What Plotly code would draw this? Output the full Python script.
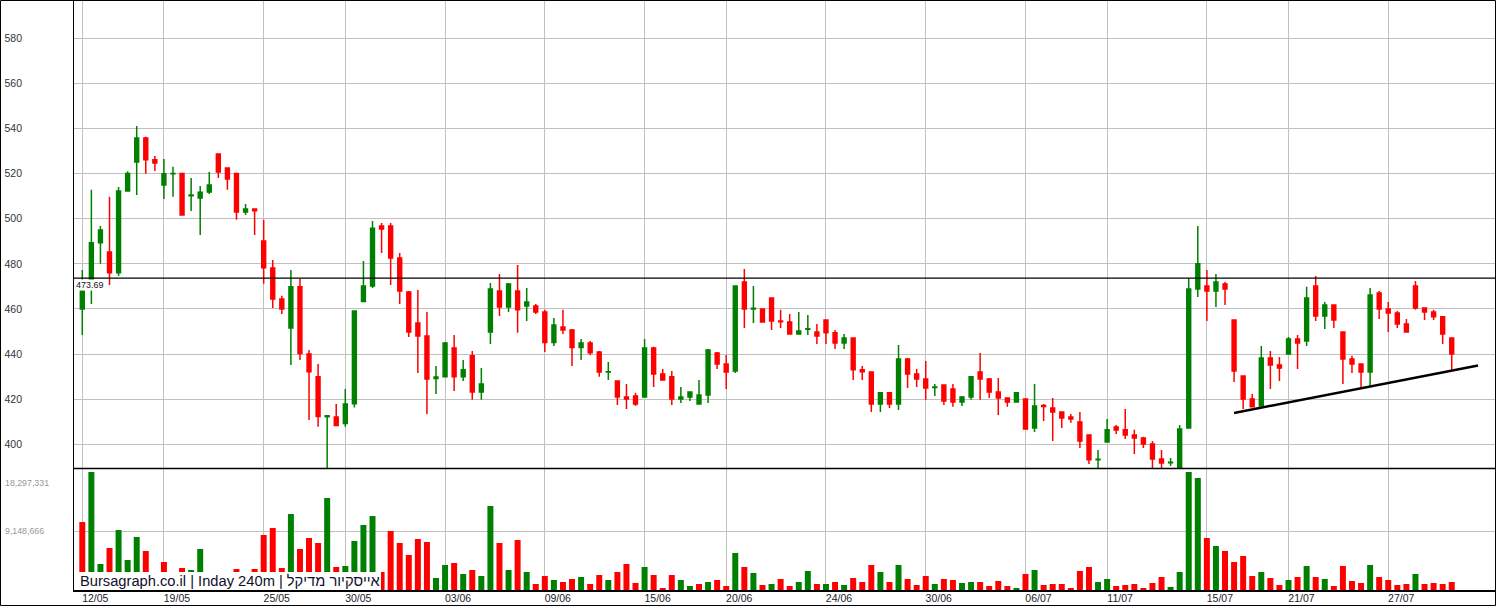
import plotly.graph_objects as go
from plotly.subplots import make_subplots

# ---------------- data ----------------
opens = [460.0, 470.5, 489.3, 485.3, 476.1, 512.3, 525.2, 535.8, 526.1, 515.0,
         519.9, 520.1, 510.2, 509.2, 511.9, 528.7, 522.5, 520.1, 503.0, 504.3,
         490.1, 478.2, 464.4, 451.6, 469.8, 440.0, 429.9, 412.2, 412.1, 409.2,
         418.0, 463.3, 470.2, 496.8, 496.8, 482.6, 467.5, 453.8, 448.0, 429.2,
         429.9, 442.7, 429.9, 439.2, 423.2, 449.8, 468.0, 460.9, 468.0, 461.3,
         461.3, 458.7, 445.1, 452.0, 450.7, 442.9, 444.9, 440.9, 432.0, 428.1,
         421.0, 421.4, 421.0, 442.7, 431.2, 429.9, 420.1, 421.0, 417.9, 421.9,
         440.5, 435.6, 432.5, 472.0, 460.0, 460.0, 464.9, 454.7, 454.2, 448.9,
         451.0, 449.8, 455.1, 449.4, 444.9, 447.1, 433.0, 432.1, 417.9, 422.8,
         417.9, 437.8, 431.2, 429.0, 425.2, 426.3, 424.5, 418.8, 421.0, 432.1,
         429.0, 423.2, 420.5, 418.8, 420.1, 407.2, 417.2, 416.1, 414.3, 412.1,
         409.9, 404.1, 393.2, 401.0, 407.7, 406.4, 404.1, 402.8, 400.1, 393.5,
         391.8, 389.0, 407.2, 468.9, 470.2, 468.0, 471.1, 455.1, 430.3, 420.1,
         417.0, 438.3, 435.2, 440.0, 446.7, 445.8, 470.2, 456.9, 461.8, 449.8,
         437.8, 435.6, 432.1, 467.1, 460.0, 458.2, 453.3, 470.2, 460.4, 458.7,
         456.5, 447.1]
highs = [477.3, 512.8, 496.8, 509.7, 514.1, 521.0, 541.1, 536.3, 527.8, 526.5,
         523.0, 520.1, 518.1, 514.5, 520.7, 528.7, 522.5, 520.1, 506.5, 504.3,
         499.5, 481.7, 465.8, 477.3, 473.4, 441.8, 435.6, 413.0, 417.9, 424.5,
         459.1, 481.3, 499.0, 498.1, 498.1, 484.8, 468.0, 468.4, 458.7, 434.7,
         445.4, 448.5, 437.4, 441.4, 433.8, 471.5, 475.5, 471.5, 479.5, 469.3,
         462.2, 459.6, 456.0, 459.6, 451.1, 446.7, 445.8, 441.4, 436.5, 428.1,
         426.7, 422.8, 446.7, 443.2, 433.4, 432.5, 425.4, 423.2, 428.5, 442.3,
         440.9, 439.6, 470.2, 477.7, 470.2, 460.0, 464.9, 459.6, 457.8, 458.7,
         457.3, 453.3, 455.1, 450.7, 448.9, 447.1, 434.7, 432.1, 422.8, 422.8,
         444.0, 438.3, 433.4, 436.9, 426.7, 426.3, 426.7, 421.4, 429.9, 440.5,
         429.4, 429.4, 420.5, 422.8, 420.1, 426.7, 417.9, 420.5, 414.3, 413.4,
         414.3, 404.1, 397.5, 411.2, 408.6, 415.7, 406.4, 403.3, 401.5, 397.5,
         393.9, 408.6, 473.7, 496.8, 477.3, 475.5, 472.0, 455.1, 430.3, 422.3,
         443.6, 441.4, 438.7, 447.6, 448.5, 469.8, 474.6, 463.1, 461.8, 449.8,
         439.2, 435.6, 469.3, 468.0, 463.1, 459.1, 455.6, 472.4, 460.4, 459.6,
         456.5, 447.1]
lows = [448.5, 462.2, 480.0, 470.6, 474.6, 512.3, 510.5, 519.9, 521.2, 508.8,
        509.7, 501.7, 503.4, 492.8, 511.0, 518.1, 512.8, 499.5, 501.7, 492.8,
        471.2, 460.4, 457.8, 435.2, 437.4, 410.8, 407.8, 389.0, 408.3, 407.8,
        416.3, 463.3, 469.3, 484.8, 470.6, 462.2, 447.6, 431.6, 413.4, 422.3,
        429.9, 423.6, 428.1, 419.7, 419.7, 444.5, 456.9, 458.7, 449.4, 454.7,
        457.8, 440.9, 443.6, 448.9, 434.7, 437.4, 439.6, 429.9, 428.5, 417.4,
        415.7, 417.0, 421.0, 425.4, 428.5, 417.4, 418.3, 419.2, 417.9, 418.3,
        433.4, 424.5, 431.6, 451.6, 453.8, 454.2, 450.7, 451.6, 448.9, 448.9,
        448.5, 444.5, 444.5, 442.3, 442.3, 428.5, 428.5, 414.3, 414.3, 416.1,
        415.2, 425.0, 425.4, 419.7, 421.4, 417.4, 416.6, 417.0, 419.7, 419.7,
        420.5, 413.0, 416.6, 418.8, 406.8, 405.5, 410.3, 401.5, 407.2, 409.5,
        398.4, 391.3, 389.0, 401.0, 404.6, 402.4, 395.7, 398.4, 389.0, 389.0,
        390.4, 388.5, 407.2, 465.3, 454.7, 460.9, 461.8, 427.6, 415.7, 416.6,
        417.0, 424.5, 428.1, 440.0, 433.4, 443.6, 454.7, 451.1, 451.6, 426.7,
        431.6, 425.0, 425.9, 455.6, 449.8, 451.6, 449.8, 459.6, 455.1, 455.1,
        444.5, 433.0]
closes = [468.0, 489.3, 495.0, 476.1, 512.3, 520.1, 535.8, 526.1, 524.7, 519.9,
          520.1, 501.7, 510.5, 511.7, 515.0, 520.7, 517.6, 503.0, 504.3, 503.5,
          478.3, 464.4, 460.0, 469.8, 440.2, 432.2, 412.3, 412.6, 408.3, 417.9,
          459.1, 470.2, 495.8, 495.5, 482.6, 468.0, 449.8, 448.0, 429.0, 429.8,
          444.9, 429.9, 433.0, 423.2, 426.7, 468.9, 460.9, 471.1, 459.6, 463.1,
          458.7, 445.1, 452.9, 450.7, 442.9, 444.9, 440.6, 432.1, 432.2, 421.0,
          420.1, 417.9, 442.7, 431.2, 428.5, 420.1, 421.0, 423.2, 421.9, 441.8,
          435.6, 432.1, 470.2, 460.0, 460.3, 454.2, 454.7, 454.3, 448.9, 450.2,
          451.2, 448.0, 449.4, 444.9, 447.1, 433.0, 432.2, 417.9, 422.8, 417.9,
          437.8, 431.2, 429.0, 425.0, 425.4, 419.2, 418.8, 421.0, 429.9, 429.0,
          423.2, 420.5, 418.8, 422.8, 406.8, 417.0, 416.8, 414.3, 411.7, 411.2,
          401.5, 393.1, 393.4, 406.5, 406.3, 404.1, 402.8, 400.1, 393.5, 391.7,
          392.0, 406.8, 468.9, 480.0, 468.0, 472.0, 468.9, 432.5, 420.1, 416.6,
          438.3, 435.2, 433.8, 446.7, 444.9, 464.9, 456.9, 461.8, 455.1, 437.8,
          435.6, 432.1, 466.2, 460.0, 458.2, 453.3, 449.8, 460.4, 458.7, 456.5,
          448.9, 440.0]
# volume in millions of shares
volume_m = [10.54, 18.30, 4.03, 6.51, 9.30, 4.65, 8.22, 6.05, 1.50, 4.34,
            1.00, 3.41, 3.10, 6.36, 1.80, 1.20, 1.40, 3.26, 0.90, 3.26,
            8.53, 9.61, 3.41, 11.78, 6.36, 8.06, 7.29, 14.27, 3.57, 3.72,
            7.60, 10.08, 11.47, 2.79, 9.15, 7.29, 5.43, 7.91, 7.44, 1.86,
            3.88, 4.19, 2.48, 3.10, 2.17, 13.03, 7.29, 3.10, 7.75, 2.79,
            0.93, 2.17, 1.55, 1.24, 1.71, 2.02, 0.93, 2.33, 1.55, 2.79,
            4.03, 1.09, 3.57, 2.33, 0.31, 2.33, 1.55, 0.62, 0.93, 1.24,
            1.55, 0.62, 5.74, 3.57, 2.64, 0.78, 0.93, 1.71, 0.62, 1.24,
            2.95, 0.93, 0.93, 1.24, 0.78, 1.86, 1.24, 3.88, 2.79, 1.24,
            3.88, 1.71, 0.78, 2.17, 0.93, 1.71, 1.55, 1.09, 1.24, 1.24,
            0.62, 1.40, 0.62, 0.31, 2.48, 3.10, 0.78, 0.93, 0.93, 0.31,
            2.95, 3.57, 1.24, 1.71, 0.62, 0.78, 0.93, 0.31, 1.09, 2.02,
            0.47, 2.79, 18.30, 17.37, 8.06, 6.82, 6.05, 4.34, 5.27, 2.17,
            2.79, 1.86, 0.78, 1.55, 2.02, 3.72, 2.02, 1.71, 0.62, 3.72,
            1.40, 1.09, 3.88, 2.02, 1.55, 0.78, 0.93, 2.48, 0.93, 1.09,
            0.93, 1.24]
first_bar_down = True

date_labels = ["12/05", "19/05", "25/05", "30/05", "03/06", "09/06", "15/06", "20/06",
               "24/06", "30/06", "06/07", "11/07", "15/07", "21/07", "27/07"]
date_label_index = [0, 9, 20, 29, 40, 51, 62, 71, 82, 93, 104, 113, 124, 133, 144]
price_ticks = [400, 420, 440, 460, 480, 500, 520, 540, 560, 580]
volume_ticks = [9148666, 18297331]
volume_tick_labels = ["9,148,666", "18,297,331"]
ref_level = 473.69
trend_x = [127.0, 153.9]
trend_y = [413.9, 434.9]
watermark = "Bursagraph.co.il | Inday 240m | אייסקיור מדיקל"

# ---------------- styling / layout ----------------
W, H = 1496, 606
ML, MR, MT, MB = 74, 1, 0, 16
PW = W - ML - MR
PH = H - MT - MB
SPLIT_PX = 468
GREEN = "#008000"
RED = "#ff0000"
GRID = "#c0c0c0"
FONT = "Liberation Sans, Arial, sans-serif"

x_range = [-0.915, 155.77]
price_range = [389.49, 596.97]
vol_range = [0, 18.918e6]


def xp(px):
    return (px - ML) / PW


def yp(py):
    return (MT + PH - py) / PH


n = len(closes)
idx = list(range(n))
volume = [v * 1e6 for v in volume_m]
vol_colors = []
for i in range(n):
    if i == 0:
        down = first_bar_down
    else:
        down = closes[i] < closes[i - 1]
    vol_colors.append(RED if down else GREEN)

price_frac = SPLIT_PX / PH
fig = make_subplots(rows=2, cols=1, shared_xaxes=True, vertical_spacing=0,
                    row_heights=[price_frac, 1 - price_frac])

fig.add_trace(go.Candlestick(
    x=idx, open=opens, high=highs, low=lows, close=closes,
    increasing=dict(line=dict(color=GREEN, width=1.5), fillcolor=GREEN),
    decreasing=dict(line=dict(color=RED, width=1.5), fillcolor=RED),
    whiskerwidth=0, showlegend=False, hoverinfo="skip"), row=1, col=1)

fig.add_trace(go.Scatter(x=trend_x, y=trend_y, mode="lines",
                         line=dict(color="black", width=2.5),
                         showlegend=False, hoverinfo="skip"), row=1, col=1)

fig.add_trace(go.Bar(x=idx, y=volume, marker=dict(color=vol_colors, line=dict(width=0)),
                     showlegend=False, hoverinfo="skip"), row=2, col=1)

common_x = dict(range=x_range, tickvals=date_label_index, showgrid=True, gridcolor=GRID,
                gridwidth=1, zeroline=False, showline=False, ticks="",
                rangeslider=dict(visible=False))
fig.update_xaxes(**common_x)
fig.update_xaxes(showticklabels=False, row=1, col=1)
fig.update_xaxes(ticktext=date_labels, showticklabels=True,
                 tickfont=dict(family=FONT, size=10.5, color="#1a1a2a"),
                 ticklabelshift=13, ticklabelstandoff=0, row=2, col=1)

fig.update_yaxes(range=price_range, tickvals=price_ticks, showgrid=True, gridcolor=GRID,
                 zeroline=False, showline=False, ticks="",
                 tickfont=dict(family=FONT, size=10.5, color="#333333"),
                 ticklabelstandoff=51, row=1, col=1)
fig.update_yaxes(range=vol_range, tickvals=[volume_ticks[0]], showgrid=True, gridcolor=GRID,
                 zeroline=False, showline=False, ticks="", showticklabels=False, row=2, col=1)

shapes = [
    # reference level line
    dict(type="line", xref="paper", yref="y", x0=0, x1=1, y0=ref_level, y1=ref_level,
         line=dict(color="black", width=1.2), layer="above"),
    # watermark background
    dict(type="rect", xref="paper", yref="paper", x0=xp(74.5), x1=xp(381), y0=yp(590), y1=yp(572),
         fillcolor="white", line=dict(width=0), layer="above"),
    # outer frame
    dict(type="rect", xref="paper", yref="paper", x0=xp(0.5), x1=xp(1495.5), y0=yp(605.5), y1=yp(0.5),
         line=dict(color="black", width=1), layer="above"),
    # y axis line
    dict(type="line", xref="paper", yref="paper", x0=xp(73.5), x1=xp(73.5), y0=yp(591), y1=yp(0),
         line=dict(color="black", width=1), layer="above"),
    # panel separator
    dict(type="line", xref="paper", yref="paper", x0=xp(74), x1=xp(1495), y0=yp(468.5), y1=yp(468.5),
         line=dict(color="black", width=1.3), layer="above"),
    # bottom axis line
    dict(type="line", xref="paper", yref="paper", x0=xp(73), x1=xp(1495), y0=yp(591), y1=yp(591),
         line=dict(color="black", width=2), layer="above"),
]

annotations = [
    dict(text=f"{ref_level:.2f}", xref="paper", yref="y", x=0, y=ref_level,
         xanchor="left", yanchor="top", xshift=1, yshift=-1, showarrow=False,
         bgcolor="white", borderpad=0, font=dict(family=FONT, size=9, color="#111")),
    dict(text=volume_tick_labels[1], xref="paper", yref="y2", x=0, y=volume_ticks[1],
         xanchor="left", yanchor="middle", xshift=-71, yshift=-10.5, showarrow=False,
         font=dict(family=FONT, size=8.8, color="#9c978f")),
    dict(text=volume_tick_labels[0], xref="paper", yref="y2", x=0, y=volume_ticks[0],
         xanchor="left", yanchor="middle", xshift=-71, showarrow=False,
         font=dict(family=FONT, size=8.8, color="#9c978f")),
    dict(text=watermark, xref="paper", yref="paper", x=xp(78), y=yp(581),
         xanchor="left", yanchor="middle", showarrow=False,
         font=dict(family=FONT, size=14.7, color="#10102a")),
]

fig.update_layout(
    width=W, height=H,
    margin=dict(l=ML, r=MR, t=MT, b=MB, pad=0),
    paper_bgcolor="white", plot_bgcolor="white",
    showlegend=False, boxgap=0.39, bargap=0.34,
    shapes=shapes, annotations=annotations,
    font=dict(family=FONT),
)

fig.write_html("out.html", config={"displayModeBar": False},
               post_script="document.body.style.margin='0px';document.body.style.overflow='hidden';")
